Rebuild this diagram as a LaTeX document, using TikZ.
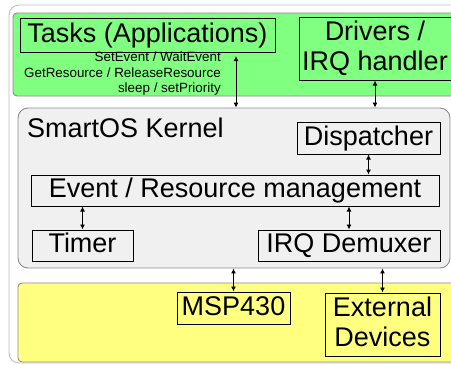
\documentclass[tikz,border=0pt]{standalone}
\usepackage{fontspec}
\setmainfont{Liberation Sans}
\usetikzlibrary{arrows.meta,positioning}
\definecolor{appgreen}{RGB}{128,255,128}
\definecolor{hwyellow}{RGB}{255,255,128}
\definecolor{kernelgray}{RGB}{240,240,240}
\definecolor{edgegray}{RGB}{140,140,140}
\definecolor{framegray}{RGB}{190,190,190}
\newcommand{\boxfont}{\fontsize{27}{30.5}\selectfont}
\newcommand{\callfont}{\fontsize{13.4}{15.5}\selectfont}
\tikzset{
  layer/.style={draw=edgegray, line width=0.9pt, rounded corners=4pt},
  blk/.style={draw=black, line width=1pt, inner sep=0pt, font=\boxfont,
    text height=19.4pt, text depth=5.4pt, align=center},
  twoline/.style={text height=49.9pt},
  conn/.style={{Latex[length=5pt,width=5pt]}-{Latex[length=5pt,width=5pt]}, line width=0.9pt},
}

\begin{document}
\begin{tikzpicture}[x=1pt,y=-1pt]
  \useasboundingbox (0,0) rectangle (451,365);
  \clip (0,0) rectangle (451,365);
% Outer frame
  \draw[framegray, line width=0.9pt, rounded corners=10pt] (9,5) rectangle (480,363);
% Application layer
  \draw[layer, fill=appgreen] (13,13) rectangle (480,96);
  \node[blk, minimum width=255pt, minimum height=34pt] (tasks) at (147.5,35) {Tasks (Applications)};
  \node[blk, twoline, minimum width=152pt, minimum height=63pt] (drivers) at (375,48.5) {Drivers /\\IRQ handler};
  \node[font=\callfont, align=right, anchor=east, inner sep=0pt] (calls) at (221,74)
    {SetEvent / WaitEvent\\GetResource / ReleaseResource\\sleep / setPriority};
  \coordinate (apitop) at (236,56);

% Kernel layer
  \node[layer, fill=kernelgray, rounded corners=10pt, minimum width=432pt,
    minimum height=160pt, inner sep=0pt] (kernel) at (234,188) {};
  \node[font=\boxfont, anchor=base west, inner sep=0pt] (kname) at (27,137.5) {SmartOS Kernel};
  \node[blk, minimum width=143pt, minimum height=32pt] (disp) at (368.5,138) {Dispatcher};
  \node[blk, minimum width=408pt, minimum height=31pt] (evres) at (235,190.5) {Event / Resource management};
  \node[blk, minimum width=101pt, minimum height=31pt] (timer) at (82.5,245.5) {Timer};
  \node[blk, minimum width=182pt, minimum height=31pt] (irqdemux) at (349,245.5) {IRQ Demuxer};

% Hardware layer
  \draw[layer, fill=hwyellow] (18,283) rectangle (480,362);
  \node[blk, minimum width=113pt, minimum height=32pt] (msp) at (233.5,308) {MSP430};
  \node[blk, twoline, minimum width=115pt, minimum height=63pt] (extdev) at (382.5,324.5) {External\\Devices};

% Connectors
  \draw[conn] (apitop) -- (apitop |- kernel.north);
  \draw[conn] (drivers.south) -- (drivers.south |- kernel.north);
  \draw[conn] (disp.south) -- (disp.south |- evres.north);
  \draw[conn] (evres.south -| timer.north) -- (timer.north);
  \draw[conn] (evres.south -| irqdemux.north) -- (irqdemux.north);
  \draw[conn] (kernel.south -| msp.north) -- (msp.north);
  \draw[conn] (kernel.south -| extdev.north) -- (extdev.north);
\end{tikzpicture}
\end{document}
